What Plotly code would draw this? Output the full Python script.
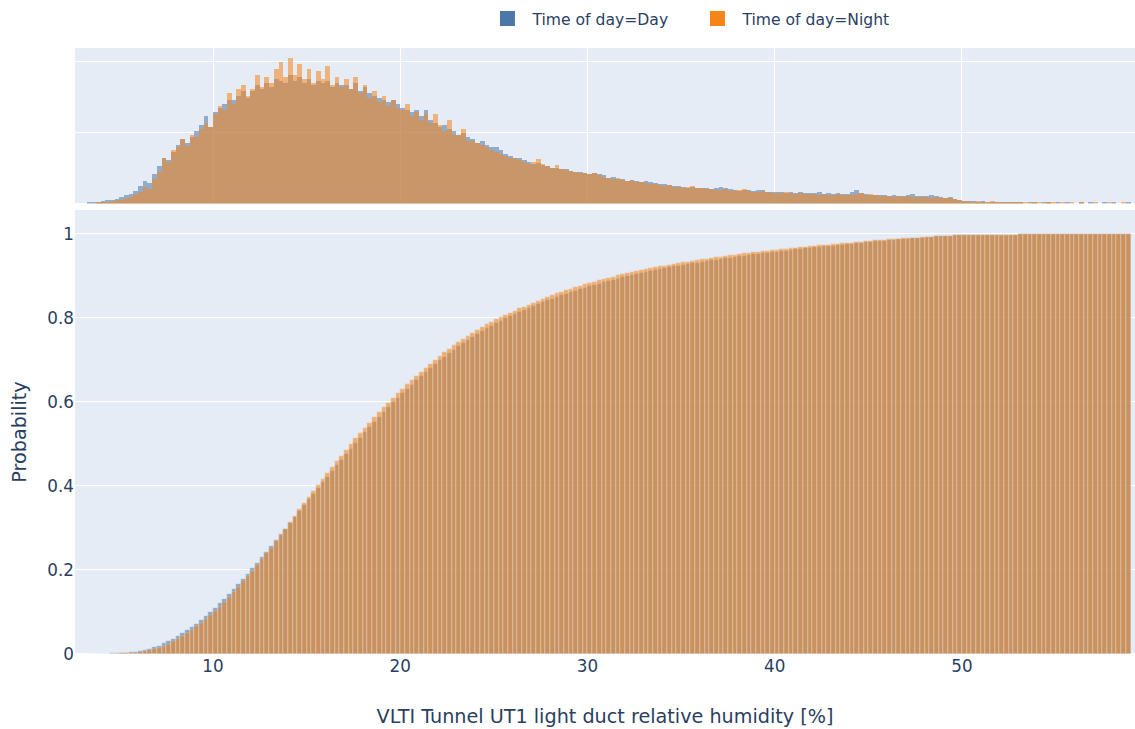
import plotly.graph_objects as go

# ---- data: binned relative-humidity counts (bins of 0.25 % from 3 % to 59 %) ----
bin_start = 3.0
bin_end = 59.0
bin_size = 0.25

night_counts = [
    0, 0, 0, 1,   1, 1, 2, 3,   3, 5, 6, 9,   11, 16, 14, 24,   30, 44, 40, 52,
    54, 62, 55, 66,   64, 72, 78, 74,   86, 94, 90, 106,   96, 110, 114, 104,
    110, 124, 112, 122,   116, 130, 136, 122,   140, 124, 134, 120,   130, 116, 128, 120,
    132, 114, 122, 112,   120, 110, 122, 106,   114, 102, 108, 98,   104, 94, 100, 92,
    90, 96, 84, 88,   80, 86, 78, 86,   76, 70, 80, 66,   66, 72, 60, 60,
    58, 56, 54, 52,   50, 48, 46, 44,   44, 42, 40, 38,   40, 43, 38, 36,
    34, 37, 33, 32,   31, 30, 29, 29,   28, 29, 27, 26,   25, 24, 25, 23,
    22, 23, 21, 21,   20, 19, 19, 18,   17, 18, 16, 16,   15, 16, 17, 15,
    15, 14, 14, 13,   13, 14, 12, 13,   13, 14, 12, 11,   11, 12, 11, 10,
    10, 10, 11, 10,   9, 10, 9, 9,   9, 8, 9, 8,   8, 9, 8, 8,
    8, 9, 10, 8,   9, 8, 7, 7,   7, 6, 7, 6,   7, 6, 6, 6,
    6, 5, 6, 5,   5, 5, 4, 3,   2, 2, 1, 2,   1, 1, 2, 1,
    1, 1, 1, 1,   1, 1, 0, 1,   1, 0, 1, 1,   0, 1, 0, 1,
    0, 1, 0, 0,   1, 0, 0, 1,   0, 0, 1, 0,
]

day_counts = [
    0, 1, 1, 1,   2, 3, 3, 4,   6, 8, 9, 12,   17, 22, 20, 28,   36, 44, 42, 50,
    56, 62, 58, 64,   70, 76, 84, 74,   88, 92, 96, 100,   100, 104, 108, 102,
    108, 114, 110, 116,   112, 120, 118, 116,   124, 118, 122, 116,   120, 114, 118, 116,
    118, 112, 116, 114,   114, 110, 116, 108,   112, 106, 104, 102,   100, 98, 100, 96,
    92, 90, 88, 90,   84, 90, 80, 78,   74, 76, 72, 70,   66, 68, 64, 62,
    58, 60, 56, 54,   54, 52, 48, 46,   44, 44, 42, 40,   38, 39, 37, 36,
    34, 34, 33, 33,   31, 30, 30, 29,   28, 29, 28, 27,   25, 26, 24, 24,
    22, 23, 22, 21,   22, 21, 20, 19,   19, 18, 17, 17,   16, 15, 16, 15,
    15, 15, 14, 15,   16, 15, 14, 13,   12, 13, 13, 12,   13, 13, 11, 11,
    11, 11, 10, 11,   10, 11, 10, 10,   10, 11, 9, 10,   9, 10, 9, 9,
    11, 13, 10, 9,   8, 8, 8, 8,   7, 8, 7, 7,   8, 9, 7, 7,
    7, 8, 7, 6,   5, 6, 4, 3,   2, 2, 2, 1,   2, 1, 1, 1,
    1, 1, 1, 1,   1, 0, 1, 1,   0, 1, 1, 0,   1, 0, 1, 0,
    0, 1, 0, 1,   0, 0, 1, 0,   1, 0, 0, 1,
]

series_names = ["Time of day=Day", "Time of day=Night"]
series_colors = ["#4C78A8", "#F58518"]
x_title = "VLTI Tunnel UT1 light duct relative humidity [%]"
y_title = "Probability"

# bin centres
humidity = [bin_start + bin_size * (i + 0.5) for i in range(len(night_counts))]

fig = go.Figure()
xbins = dict(start=bin_start, end=bin_end, size=bin_size)

for name, color, counts in zip(series_names, series_colors, [day_counts, night_counts]):
    # main cumulative histogram
    fig.add_trace(go.Histogram(
        x=humidity, y=counts, histfunc="sum", histnorm="probability",
        cumulative_enabled=True, xbins=xbins,
        marker=dict(color=color, opacity=0.6,
                    line=dict(width=0.4, color="#E5ECF6")),
        name=name, legendgroup=name, showlegend=False, xaxis="x", yaxis="y",
    ))
    # marginal histogram
    fig.add_trace(go.Histogram(
        x=humidity, y=counts, histfunc="sum", histnorm="probability",
        xbins=xbins,
        marker=dict(color=color, opacity=0.55, line=dict(width=0)),
        name=name, legendgroup=name, showlegend=False, xaxis="x2", yaxis="y2",
    ))
    # legend entry (square swatch)
    fig.add_trace(go.Scatter(
        x=[None], y=[None], mode="markers",
        marker=dict(symbol="square", size=15, color=color),
        name=name, legendgroup=name, showlegend=True, xaxis="x", yaxis="y",
    ))

peak = max(max(night_counts) / sum(night_counts), max(day_counts) / sum(day_counts))
top_range = peak * 1.07

fig.update_layout(
    width=1135, height=729,
    template="plotly",
    font=dict(family="DejaVu Sans", size=16.8, color="#2a3f5f"),
    margin=dict(l=75, r=0, t=48, b=75),
    barmode="overlay",
    bargap=0,
    legend=dict(orientation="h", x=0.3844, xanchor="left", y=1.02, yanchor="bottom",
                font=dict(size=15.6), bgcolor="rgba(0,0,0,0)", itemwidth=40,
                entrywidth=155),
    xaxis=dict(domain=[0, 1], range=[2.63, 59.24], showgrid=False,
               tickvals=[10, 20, 30, 40, 50],
               title=dict(text=x_title, font=dict(size=19.2), standoff=34),
               anchor="y"),
    yaxis=dict(domain=[0, 0.7327], range=[0, 1.057], dtick=0.2,
               title=dict(text=y_title, font=dict(size=19.2)), anchor="x"),
    xaxis2=dict(domain=[0, 1], matches="x", anchor="y2", showticklabels=False,
                showgrid=True, tickvals=[10, 20, 30, 40, 50]),
    yaxis2=dict(domain=[0.7434, 1], range=[0, top_range], anchor="x2",
                tick0=0, dtick=top_range * 0.457, showticklabels=False),
)

fig.write_html("out.html")
